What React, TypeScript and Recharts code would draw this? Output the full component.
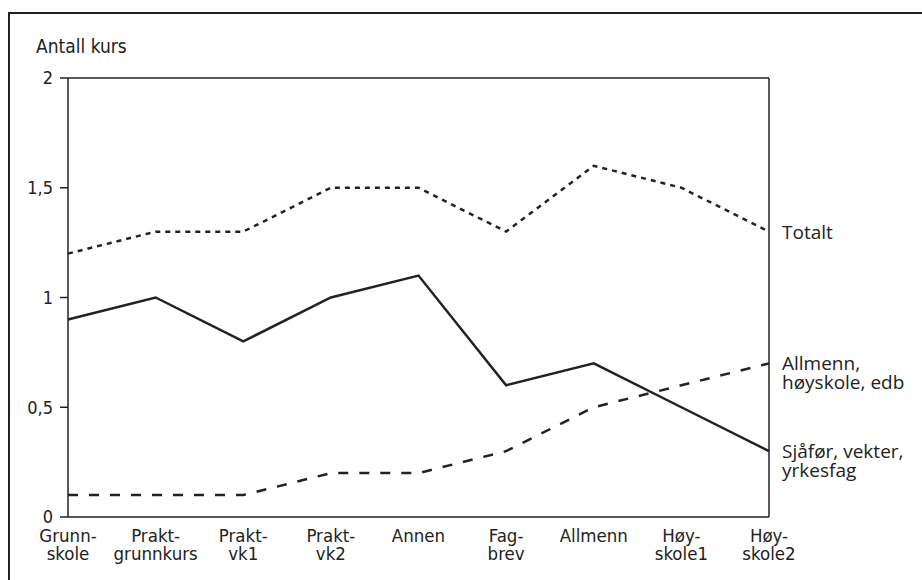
import React from 'react';
import { LineChart, Line, XAxis, YAxis, ReferenceLine } from 'recharts';

const categories = [
  'Grunn-|skole', 'Prakt-|grunnkurs', 'Prakt-|vk1', 'Prakt-|vk2', 'Annen',
  'Fag-|brev', 'Allmenn', 'Høy-|skole1', 'Høy-|skole2',
];
const totalt = [1.2, 1.3, 1.3, 1.5, 1.5, 1.3, 1.6, 1.5, 1.3];
const sjafor = [0.9, 1.0, 0.8, 1.0, 1.1, 0.6, 0.7, 0.5, 0.3];
const allmenn = [0.1, 0.1, 0.1, 0.2, 0.2, 0.3, 0.5, 0.6, 0.7];
const yTicks = [0, 0.5, 1, 1.5, 2];

const data = categories.map((c, i) => ({
  cat: c,
  totalt: totalt[i],
  sjafor: sjafor[i],
  allmenn: allmenn[i],
}));

const ink = '#222';
const narrow = '"Liberation Sans Narrow", "DejaVu Sans Condensed", "Open Sans", sans-serif';
const regular = '"Open Sans", "DejaVu Sans", sans-serif';

// multi-line x tick, split on "|"
const XTick = (props: any) => {
  const { x, y, payload } = props;
  const lines = String(payload.value).split('|');
  return (
    <text x={x} y={y} textAnchor="middle" fill={ink} fontFamily={narrow} fontSize={18.5}>
      {lines.map((l, i) => (
        <tspan key={i} x={x} dy={i === 0 ? 17 : 18}>{l}</tspan>
      ))}
    </text>
  );
};

// series name drawn at the last point only
const endLabel = (lines: string[]) => (props: any) => {
  const { x, y, index } = props;
  if (index !== categories.length - 1) return null;
  return (
    <text x={x + 13} y={y} fill={ink} fontFamily={regular} fontSize={19} dominantBaseline="central">
      {lines.map((l, i) => (
        <tspan key={i} x={x + 13} dy={i === 0 ? 0 : 19}>{l}</tspan>
      ))}
    </text>
  );
};

const App: React.FC = () => {
  return (
    // fixed so nothing here can make the page scroll
    <div style={{ position: 'fixed', left: 0, top: 0, width: 922, height: 580, overflow: 'hidden', background: '#fff' }}>
      {/* frame around the figure */}
      <div style={{ position: 'absolute', left: 8, top: 12, width: 940, height: 600, borderLeft: `2px solid ${ink}`, borderTop: `2px solid ${ink}` }} />
      <div style={{ position: 'absolute', left: 36, top: 35, fontFamily: narrow, fontSize: 19, color: ink }}>
        Antall kurs
      </div>
      <div style={{ position: 'absolute', left: 8, top: 8 }}>
        <LineChart width={914} height={572} data={data} margin={{ top: 70, right: 153, bottom: 3, left: 0 }}>
          <XAxis
            dataKey="cat"
            tick={<XTick />}
            tickLine={false}
            axisLine={{ stroke: ink, strokeWidth: 1.5 }}
            interval={0}
            height={60}
          />
          <YAxis
            domain={[0, 2]}
            ticks={yTicks}
            width={60}
            tickSize={8}
            tickMargin={7}
            tickFormatter={(v: number) => String(v).replace('.', ',')}
            tick={{ fill: ink, fontFamily: narrow, fontSize: 18 }}
            tickLine={{ stroke: ink, strokeWidth: 1.5 }}
            axisLine={{ stroke: ink, strokeWidth: 1.5 }}
          />
          <ReferenceLine y={2} stroke={ink} strokeWidth={1.5} />
          <ReferenceLine x={categories[categories.length - 1]} stroke={ink} strokeWidth={1.5} />
          <Line
            dataKey="totalt"
            type="linear"
            stroke={ink}
            strokeWidth={2.5}
            strokeDasharray="5 5"
            dot={false}
            isAnimationActive={false}
            label={endLabel(['Totalt'])}
          />
          <Line
            dataKey="sjafor"
            type="linear"
            stroke={ink}
            strokeWidth={2.5}
            dot={false}
            isAnimationActive={false}
            label={endLabel(['Sjåfør, vekter,', 'yrkesfag'])}
          />
          <Line
            dataKey="allmenn"
            type="linear"
            stroke={ink}
            strokeWidth={2.5}
            strokeDasharray="10 11"
            dot={false}
            isAnimationActive={false}
            label={endLabel(['Allmenn,', 'høyskole, edb'])}
          />
        </LineChart>
      </div>
    </div>
  );
};

export default App;
